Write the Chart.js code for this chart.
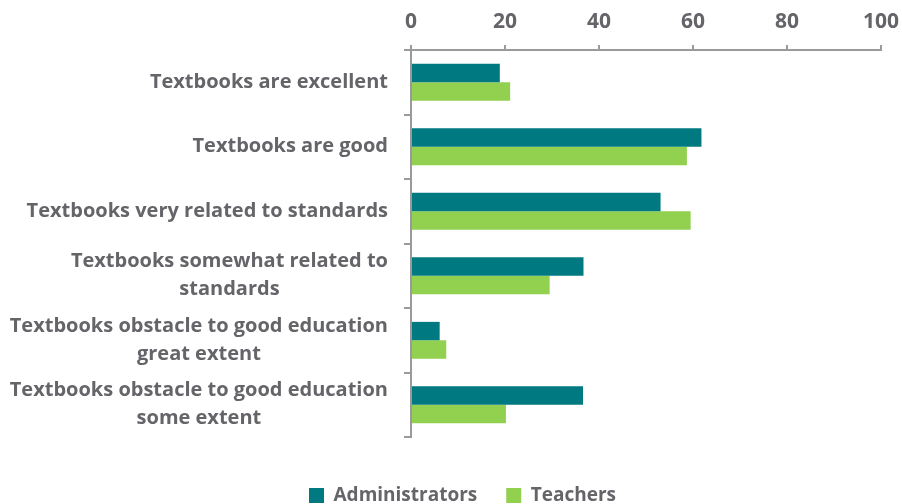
<!DOCTYPE html>
<html>
<head>
<meta charset="utf-8">
<script src="https://cdn.jsdelivr.net/npm/chart.js@4.4.1/dist/chart.umd.min.js"></script>
<style>
  html, body { margin: 0; padding: 0; background: #fff; }
  #wrap { width: 902px; height: 504px; }
</style>
</head>
<body>
<div id="wrap"><canvas id="bar-chart"></canvas></div>
<script>
const categories = [
  ["Textbooks are excellent"],
  ["Textbooks are good"],
  ["Textbooks very related to standards"],
  ["Textbooks somewhat related to", "standards"],
  ["Textbooks obstacle to good education", "great extent"],
  ["Textbooks obstacle to good education", "some extent"]
];
const administrators = [18.9, 61.8, 53.1, 36.7, 6.1, 36.6];
const teachers = [21.1, 58.7, 59.5, 29.5, 7.5, 20.2];
const xTicks = [0, 20, 40, 60, 80, 100];

const textGrey = "#646469";
const axisGrey = "#9a9a9a";
const fontName = "'Open Sans', sans-serif";

// y labels: block right-aligned, lines centred inside the block (like Excel)
const yLabels = {
  id: "yLabels",
  afterLayout(chart) {
    // legend sits a bit right of the canvas centre in the original
    chart.legend.left += 22;
    chart.legend.right += 22;
  },
  afterDraw(chart) {
    const ctx = chart.ctx;
    const scale = chart.scales.y;
    ctx.save();
    ctx.font = "bold 20px " + fontName;
    ctx.fillStyle = textGrey;
    ctx.textAlign = "center";
    ctx.textBaseline = "middle";
    const right = 388, lh = 28;
    categories.forEach(function (lines, i) {
      const yc = scale.getPixelForTick(i);
      const w = Math.max.apply(null, lines.map(l => ctx.measureText(l).width));
      const cx = right - w / 2;
      lines.forEach(function (l, j) {
        ctx.fillText(l, cx, yc + (j - (lines.length - 1) / 2) * lh);
      });
    });
    ctx.restore();
  }
};

new Chart(document.getElementById("bar-chart"), {
  type: 'bar',
  data: {
    labels: categories,
    datasets: [
      {
        label: "Administrators",
        backgroundColor: "#007a80",
        data: administrators,
        categoryPercentage: 0.57,
        barPercentage: 1
      },
      {
        label: "Teachers",
        backgroundColor: "#92d050",
        data: teachers,
        categoryPercentage: 0.57,
        barPercentage: 1
      }
    ]
  },
  options: {
    indexAxis: 'y',
    responsive: true,
    maintainAspectRatio: false,
    animation: false,
    layout: { padding: { left: 0, right: 21, top: 0, bottom: -11 } },
    scales: {
      x: {
        position: 'top',
        min: 0,
        max: 100,
        afterBuildTicks: function (scale) {
          scale.ticks = xTicks.map(v => ({ value: v }));
        },
        afterFit: function (scale) {
          scale.height = 50;
          scale.paddingLeft = 0;
          scale.paddingRight = 0;
        },
        grid: { drawOnChartArea: false, tickLength: 5, color: axisGrey, lineWidth: 2 },
        border: { color: axisGrey, width: 2 },
        ticks: { color: textGrey, font: { family: fontName, size: 21, weight: 'bold' }, padding: 10 }
      },
      y: {
        afterFit: function (scale) { scale.width = 411; },
        grid: { drawOnChartArea: false, tickLength: 7, color: axisGrey, lineWidth: 2 },
        border: { color: axisGrey, width: 2 },
        ticks: { color: 'rgba(0,0,0,0)', font: { family: fontName, size: 17, weight: 'bold' } }
      }
    },
    plugins: {
      legend: {
        position: 'bottom',
        // blank title only pushes the legend row down
        title: { display: true, text: ' ', font: { size: 10, lineHeight: 1 }, padding: { top: 0, bottom: 10 } },
        labels: {
          color: textGrey,
          boxWidth: 15,
          boxHeight: 15,
          padding: 29,
          font: { family: fontName, size: 19, weight: 'bold' }
        }
      },
      tooltip: { enabled: false }
    }
  },
  plugins: [yLabels]
});
</script>
</body>
</html>
